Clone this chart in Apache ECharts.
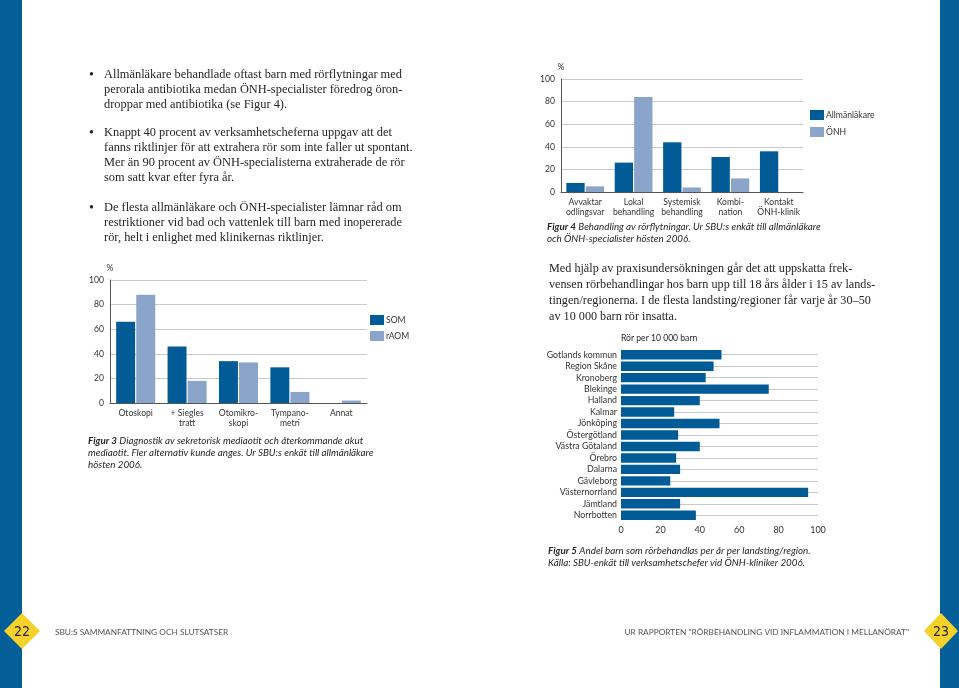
<!DOCTYPE html>
<html><head><meta charset="utf-8">
<script src="https://cdn.jsdelivr.net/npm/echarts@6/dist/echarts.min.js"></script>
<style>html,body{margin:0;padding:0;background:#fff}#c{width:959px;height:688px}</style>
</head><body><div id="c"></div>
<script>
// Figure 3
const fig3Categories = ['Otoskopi', '+ Siegles\ntratt', 'Otomikro-\nskopi', 'Tympano-\nmetri', 'Annat'];
const fig3SOM = [66, 46, 34, 29, 0];
const fig3rAOM = [88, 18, 33, 9, 2];
// Figure 4
const fig4Categories = ['Avvaktar\nodlingsvar', 'Lokal\nbehandling', 'Systemisk\nbehandling', 'Kombi-\nnation', 'Kontakt\nÖNH-klinik'];
const fig4Allm = [8, 26, 44, 31, 36];
const fig4ONH = [5, 84, 4, 12, 0];
// Figure 5
const fig5Regions = ['Gotlands kommun', 'Region Skåne', 'Kronoberg', 'Blekinge', 'Halland', 'Kalmar', 'Jönköping', 'Östergötland', 'Västra Götaland', 'Örebro', 'Dalarna', 'Gävleborg', 'Västernorrland', 'Jämtland', 'Norrbotten'];
const fig5Values = [51, 47, 43, 75, 40, 27, 50, 29, 40, 28, 30, 25, 95, 30, 38];
const pctTicks = [0, 20, 40, 60, 80, 100];

const DARK = '#005b97', LIGHT = '#8ba4c9', STRIPE = '#045f99', YELLOW = '#f4d22a';
const SANS = 'Lato, "Open Sans", sans-serif';
const SERIF = '"Liberation Serif", "DejaVu Serif", serif';
const TXT = '#262626';

const bullets = [
  {y: 75, lines: ['Allmänläkare behandlade oftast barn med rörflytningar med', 'perorala antibiotika medan ÖNH-specialister föredrog öron-', 'droppar med antibiotika (se Figur 4).']},
  {y: 133, lines: ['Knappt 40 procent av verksamhetscheferna uppgav att det', 'fanns riktlinjer för att extrahera rör som inte faller ut spontant.', 'Mer än 90 procent av ÖNH-specialisterna extraherade de rör', 'som satt kvar efter fyra år.']},
  {y: 208, lines: ['De flesta allmänläkare och ÖNH-specialister lämnar råd om', 'restriktioner vid bad och vattenlek till barn med inopererade', 'rör, helt i enlighet med klinikernas riktlinjer.']}
];
const para = ['Med hjälp av praxisundersökningen går det att uppskatta frek-', 'vensen rörbehandlingar hos barn upp till 18 års ålder i 15 av lands-', 'tingen/regionerna. I de flesta landsting/regioner får varje år 30–50', 'av 10 000 barn rör insatta.'];

const graphics = [];
graphics.push({type: 'rect', shape: {x: 0, y: 0, width: 22, height: 688}, style: {fill: STRIPE}, silent: true});
graphics.push({type: 'rect', shape: {x: 940, y: 0, width: 19, height: 688}, style: {fill: STRIPE}, silent: true});
graphics.push({type: 'polygon', shape: {points: [[4, 631], [22, 613], [40, 631], [22, 649]]}, style: {fill: YELLOW}, z: 10});
graphics.push({type: 'polygon', shape: {points: [[924, 631], [941, 613], [958, 631], [941, 649]]}, style: {fill: YELLOW}, z: 10});
graphics.push({type: 'text', x: 22, y: 632, style: {text: '22', font: '14px "DejaVu Sans Condensed", "Open Sans", sans-serif', fill: '#222', align: 'center', verticalAlign: 'middle'}, z: 11});
graphics.push({type: 'text', x: 941, y: 632, style: {text: '23', font: '14px "DejaVu Sans Condensed", "Open Sans", sans-serif', fill: '#222', align: 'center', verticalAlign: 'middle'}, z: 11});
graphics.push({type: 'text', x: 55, y: 632, style: {text: 'SBU:S SAMMANFATTNING OCH SLUTSATSER', font: '8.3px ' + SANS, fill: '#555', align: 'left', verticalAlign: 'middle'}});
graphics.push({type: 'text', x: 909, y: 632, style: {text: 'UR RAPPORTEN "RÖRBEHANDLING VID INFLAMMATION I MELLANÖRAT"', font: '8.3px ' + SANS, fill: '#555', align: 'right', verticalAlign: 'middle'}});

bullets.forEach(b => {
  graphics.push({type: 'text', x: 89, y: b.y, style: {text: '•', font: '14px ' + SERIF, fill: TXT, verticalAlign: 'middle'}});
  b.lines.forEach((l, i) => graphics.push({type: 'text', x: 104, y: b.y + i * 14.8, style: {text: l, font: '12.4px ' + SERIF, fill: TXT, verticalAlign: 'middle'}}));
});
para.forEach((l, i) => graphics.push({type: 'text', x: 549, y: 269 + i * 16, style: {text: l, font: '12.2px ' + SERIF, fill: TXT, verticalAlign: 'middle'}}));

function caption(x, y, boldPart, lines) {
  graphics.push({type: 'text', x: x, y: y, style: {
    text: '{b|' + boldPart + '} ' + lines[0], font: 'italic 9.8px ' + SANS, fill: TXT, verticalAlign: 'middle',
    rich: {b: {fontWeight: 'bold', fontStyle: 'italic', fontSize: 9.8, fontFamily: 'Lato, sans-serif', fill: TXT}}
  }});
  for (let i = 1; i < lines.length; i++) {
    graphics.push({type: 'text', x: x, y: y + i * 12, style: {text: lines[i], font: 'italic 9.8px ' + SANS, fill: TXT, verticalAlign: 'middle'}});
  }
}
caption(88, 441, 'Figur 3', ['Diagnostik av sekretorisk mediaotit och återkommande akut', 'mediaotit. Fler alternativ kunde anges. Ur SBU:s enkät till allmänläkare', 'hösten 2006.']);
caption(547, 227, 'Figur 4', ['Behandling av rörflytningar. Ur SBU:s enkät till allmänläkare', 'och ÖNH-specialister hösten 2006.']);
caption(548, 551, 'Figur 5', ['Andel barn som rörbehandlas per år per landsting/region.', 'Källa: SBU-enkät till verksamhetschefer vid ÖNH-kliniker 2006.']);
graphics.push({type: 'text', x: 621, y: 338, style: {text: 'Rör per 10 000 barn', font: '8.6px ' + SANS, fill: TXT, verticalAlign: 'middle'}});

const axisLbl = {fontSize: 8.6, color: '#333', fontFamily: SANS};
const valueAxis = (gi) => ({
  type: 'value', gridIndex: gi, min: 0, max: 100, interval: 20,
  name: '%', nameLocation: 'end', nameGap: 7, nameTextStyle: {fontSize: 8.6, color: '#333', fontFamily: SANS, align: 'center'},
  axisLine: {show: true, lineStyle: {color: '#555', width: 1}}, axisTick: {show: false},
  axisLabel: Object.assign({margin: 6, formatter: v => pctTicks.includes(v) ? String(v) : ''}, axisLbl),
  splitLine: {show: true, lineStyle: {color: '#c9c9c9', width: 1}}
});
const catAxis = (gi, data) => ({
  type: 'category', gridIndex: gi, data: data,
  axisLine: {show: true, lineStyle: {color: '#555', width: 1}}, axisTick: {show: false},
  axisLabel: Object.assign({margin: 5, interval: 0, lineHeight: 10}, axisLbl)
});
const legendText = {fontSize: 8.6, color: '#333', fontFamily: SANS, padding: [0, 0, 0, -3]};

const option = {
  backgroundColor: '#fff',
  animation: false,
  graphic: graphics,
  grid: [
    {left: 110, top: 280, width: 257, height: 123, outerBoundsMode: 'none'},
    {left: 561, top: 79, width: 242, height: 113, outerBoundsMode: 'none'},
    {left: 621, top: 349, width: 197, height: 172, outerBoundsMode: 'none'}
  ],
  legend: [
    {data: ['SOM', 'rAOM'], left: 370, top: 315, orient: 'vertical', itemWidth: 14, itemHeight: 10, itemGap: 6, icon: 'rect',
     textStyle: legendText, padding: 0},
    {data: ['Allmänläkare', 'ÖNH'], left: 810, top: 110, orient: 'vertical', itemWidth: 14, itemHeight: 10, itemGap: 7, icon: 'rect',
     textStyle: legendText, padding: 0}
  ],
  xAxis: [
    catAxis(0, fig3Categories),
    catAxis(1, fig4Categories),
    {type: 'value', gridIndex: 2, min: 0, max: 100, interval: 20, axisLine: {show: false}, axisTick: {show: false},
     splitLine: {show: false}, axisLabel: Object.assign({}, axisLbl, {fontSize: 9, margin: 5})}
  ],
  yAxis: [
    valueAxis(0),
    valueAxis(1),
    {type: 'category', gridIndex: 2, data: fig5Regions, inverse: true,
     axisLine: {show: false}, axisTick: {show: false, alignWithLabel: true},
     splitLine: {show: true, alignWithLabel: true, lineStyle: {color: '#c9c9c9', width: 1}},
     axisLabel: Object.assign({}, axisLbl, {fontSize: 8.8, margin: 4, interval: 0})}
  ],
  series: [
    {name: 'SOM', type: 'bar', xAxisIndex: 0, yAxisIndex: 0, data: fig3SOM, itemStyle: {color: DARK}, barGap: '6%', barCategoryGap: '24%'},
    {name: 'rAOM', type: 'bar', xAxisIndex: 0, yAxisIndex: 0, data: fig3rAOM, itemStyle: {color: LIGHT}},
    {name: 'Allmänläkare', type: 'bar', xAxisIndex: 1, yAxisIndex: 1, data: fig4Allm, itemStyle: {color: DARK}, barGap: '6%', barCategoryGap: '22%'},
    {name: 'ÖNH', type: 'bar', xAxisIndex: 1, yAxisIndex: 1, data: fig4ONH, itemStyle: {color: LIGHT}},
    {name: 'Rör per 10 000 barn', type: 'bar', xAxisIndex: 2, yAxisIndex: 2, data: fig5Values, itemStyle: {color: DARK}, barCategoryGap: '18%'}
  ]
};
const chart = echarts.init(document.getElementById('c'), null, {renderer: 'canvas'});
chart.setOption(option);
</script>
</body></html>
